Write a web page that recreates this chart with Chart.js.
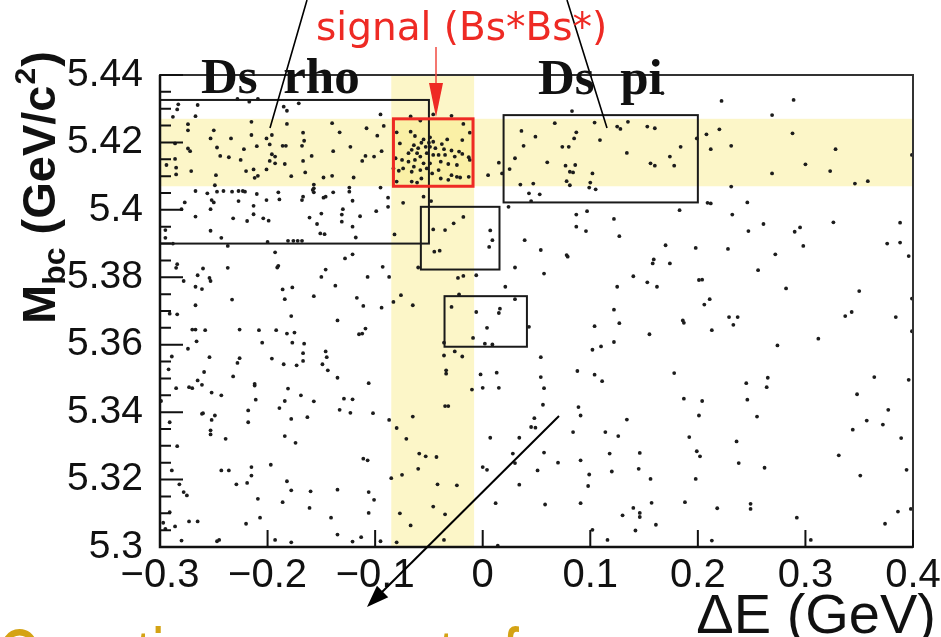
<!DOCTYPE html>
<html>
<head>
<meta charset="utf-8">
<script src="https://cdn.jsdelivr.net/npm/chart.js@4.4.1/dist/chart.umd.min.js"></script>
<style>
  html, body { margin: 0; padding: 0; background: #fff; }
  #wrap { width: 941px; height: 637px; overflow: hidden; }
</style>
</head>
<body>
<div id="wrap"><canvas id="myChart" width="941" height="637"></canvas></div>
<script>
// axis ticks
var xTicks = [-0.3, -0.2, -0.1, 0, 0.1, 0.2, 0.3, 0.4];
var yTicks = [5.3, 5.32, 5.34, 5.36, 5.38, 5.4, 5.42, 5.44];

// selection bands and boxes (dE min, dE max, Mbc min, Mbc max)
var hBand = [5.407, 5.427];
var vBand = [-0.085, -0.008];
var dsRhoBox = [-0.3, -0.050, 5.390, 5.4326];
var dsPiBox = [0.0194, 0.200, 5.4022, 5.4281];
var sideBoxA = [-0.0575, 0.0156, 5.3823, 5.4009];
var sideBoxB = [-0.0355, 0.0411, 5.3594, 5.3744];
var signalBox = [-0.083, -0.009, 5.407, 5.427];

// events [dE, Mbc]
var ptsUpperLeft = [
  [-0.228,5.4329],[-0.217,5.4321],[-0.209,5.4329],[-0.171,5.4316],[-0.283,5.4313],[-0.265,5.4311],
  [-0.284,5.4298],[-0.185,5.4306],[-0.182,5.4294],[-0.288,5.4276],[-0.267,5.4278],[-0.095,5.4283],
  [-0.274,5.4254],[-0.215,5.4261],[-0.182,5.4255],[-0.140,5.4257],[-0.108,5.4242],[-0.092,5.4249],
  [-0.250,5.4236],[-0.274,5.4236],[-0.167,5.4229],[-0.133,5.4230],[-0.098,5.4220],[-0.215,5.4222],
  [-0.196,5.4222],[-0.253,5.4212],[-0.234,5.4212],[-0.201,5.4212],[-0.166,5.4205],[-0.286,5.4197],
  [-0.274,5.4182],[-0.247,5.4185],[-0.222,5.4180],[-0.210,5.4189],[-0.198,5.4194],[-0.186,5.4190],
  [-0.183,5.4190],[-0.168,5.4190],[-0.123,5.4187],[-0.272,5.4174],[-0.139,5.4174],[-0.244,5.4160],
  [-0.236,5.4156],[-0.196,5.4165],[-0.193,5.4158],[-0.159,5.4160],[-0.109,5.4160],[-0.101,5.4158],
  [-0.094,5.4174],[-0.286,5.4151],[-0.225,5.4148],[-0.198,5.4145],[-0.193,5.4138],[-0.184,5.4136],
  [-0.167,5.4145],[-0.112,5.4145],[-0.294,5.4133],[-0.285,5.4125],[-0.271,5.4115],[-0.220,5.4115],
  [-0.213,5.4120],[-0.201,5.4120],[-0.165,5.4111],[-0.285,5.4105],[-0.248,5.4103],[-0.209,5.4101],
  [-0.212,5.4095],[-0.178,5.4100],[-0.148,5.4096],[-0.140,5.4101],[-0.120,5.4096],[-0.249,5.4073],
  [-0.157,5.4075],[-0.157,5.4064],[-0.158,5.4059],[-0.124,5.4066],[-0.095,5.4066],[-0.267,5.4056],
  [-0.256,5.4049],[-0.247,5.4054],[-0.241,5.4056],[-0.233,5.4054],[-0.227,5.4056],[-0.223,5.4056],
  [-0.221,5.4054],[-0.210,5.4047],[-0.190,5.4052],[-0.167,5.4039],[-0.157,5.4052],[-0.146,5.4039],
  [-0.139,5.4052],[-0.124,5.4054],[-0.277,5.4022],[-0.252,5.4029],[-0.250,5.4022],[-0.227,5.4026],
  [-0.201,5.4029],[-0.189,5.4031],[-0.168,5.4029],[-0.148,5.4036],[-0.121,5.4027],[-0.088,5.4036],
  [-0.253,5.4002],[-0.213,5.4012],[-0.280,5.4002],[-0.130,5.4002],[-0.099,5.3996],[-0.088,5.4009],
  [-0.267,5.3980],[-0.232,5.3975],[-0.219,5.3967],[-0.213,5.3987],[-0.204,5.3975],[-0.199,5.3968],
  [-0.161,5.3977],[-0.150,5.3989],[-0.131,5.3986],[-0.114,5.3981],[-0.154,5.3958],[-0.121,5.3950],
  [-0.131,5.3965],[-0.295,5.3940],[-0.253,5.3938],[-0.243,5.3917],[-0.151,5.3930],[-0.147,5.3928],
  [-0.118,5.3918],[-0.295,5.3917],[-0.288,5.3900],[-0.200,5.3905],[-0.181,5.3908],[-0.176,5.3908],
  [-0.172,5.3908],[-0.168,5.3908],[-0.237,5.3893],[-0.193,5.3874],[-0.128,5.3856],[-0.121,5.3868],
  [-0.284,5.3839],[-0.285,5.3828],[-0.260,5.3826],[-0.237,5.3828],[-0.191,5.3829],[-0.190,5.3834],
  [-0.146,5.3823],[-0.093,5.3831],[-0.265,5.3806],[-0.254,5.3798],[-0.253,5.3789],[-0.278,5.3789],
  [-0.150,5.3801],[-0.107,5.3801],[-0.087,5.3801],[-0.137,5.3775],[-0.267,5.3772],[-0.261,5.3765],
  [-0.186,5.3764],[-0.177,5.3770],[-0.157,5.3744],[-0.117,5.3739],[-0.076,5.3747],[-0.233,5.3734],
  [-0.184,5.3735],[-0.267,5.3717],[-0.111,5.3715],[-0.094,5.3710],[-0.083,5.3727],[-0.074,5.4021],
  [-0.082,5.3927]
];
var ptsSignal = [
  [-0.067,5.4277],[-0.058,5.4265],[-0.029,5.4279],[-0.018,5.4255],[-0.080,5.4230],[-0.067,5.4232],
  [-0.063,5.4219],[-0.055,5.4209],[-0.049,5.4215],[-0.046,5.4202],[-0.033,5.4209],[-0.019,5.4207],
  [-0.012,5.4229],[-0.064,5.4192],[-0.057,5.4199],[-0.053,5.4187],[-0.049,5.4187],[-0.044,5.4183],
  [-0.038,5.4195],[-0.036,5.4180],[-0.066,5.4178],[-0.069,5.4168],[-0.061,5.4168],[-0.058,5.4158],
  [-0.052,5.4168],[-0.046,5.4163],[-0.041,5.4163],[-0.029,5.4176],[-0.022,5.4173],[-0.019,5.4166],
  [-0.013,5.4156],[-0.081,5.4153],[-0.075,5.4148],[-0.069,5.4143],[-0.063,5.4148],[-0.055,5.4138],
  [-0.049,5.4138],[-0.039,5.4143],[-0.032,5.4136],[-0.024,5.4133],[-0.012,5.4148],[-0.083,5.4123],
  [-0.078,5.4116],[-0.074,5.4123],[-0.066,5.4113],[-0.058,5.4118],[-0.047,5.4108],[-0.041,5.4118],
  [-0.029,5.4103],[-0.024,5.4098],[-0.021,5.4096],[-0.080,5.4084],[-0.066,5.4084],[-0.061,5.4081],
  [-0.057,5.4093],[-0.039,5.4093],[-0.032,5.4089],[-0.013,5.4098],[-0.077,5.4197],[-0.060,5.4183],
  [-0.050,5.4199],[-0.035,5.4163],[-0.026,5.4158],[-0.052,5.4123],[-0.064,5.4128]
];
var ptsUpperMid = [
  [-0.046,5.4283],[0.083,5.4293],[0.067,5.4257],[0.104,5.4259],[0.135,5.4261],[0.153,5.4247],
  [0.160,5.4242],[0.125,5.4247],[0.128,5.4240],[0.036,5.4234],[0.049,5.4217],[0.087,5.4230],
  [0.085,5.4212],[0.109,5.4207],[0.038,5.4190],[0.074,5.4187],[0.080,5.4187],[0.134,5.4169],
  [0.030,5.4153],[0.015,5.4140],[0.060,5.4141],[0.077,5.4131],[0.086,5.4133],[0.156,5.4138],
  [0.160,5.4131],[0.025,5.4121],[0.018,5.4108],[0.005,5.4103],[0.081,5.4113],[0.084,5.4111],
  [0.102,5.4108],[0.078,5.4085],[0.035,5.4075],[0.047,5.4078],[0.081,5.4073],[0.100,5.4081],
  [0.099,5.4066],[0.105,5.4061],[-0.055,5.4039],[-0.048,5.4026],[0.043,5.4049],[0.053,5.4046],
  [0.045,5.4026],[0.024,5.4009],[0.087,5.3986],[0.097,5.3996],[0.122,5.3973],[-0.018,5.3979],
  [-0.027,5.3960],[-0.035,5.3940],[-0.046,5.3942],[0.007,5.3939],[0.009,5.3910],[0.006,5.3890],
  [0.087,5.3950],[0.096,5.3937],[0.127,5.3922],[0.039,5.3910],[-0.045,5.3876],[-0.040,5.3879],
  [0.054,5.3881],[0.078,5.3866],[0.079,5.3861],[0.159,5.3853],[0.158,5.3841],[-0.060,5.3829],
  [0.030,5.3829],[0.057,5.3811],[-0.018,5.3804],[-0.023,5.3798],[-0.006,5.3806],[0.140,5.3803],
  [0.153,5.3785],[0.162,5.3772],[0.021,5.3772],[0.125,5.3772],[-0.022,5.3749],[-0.029,5.3712],
  [0.016,5.3707],[-0.065,5.3717],[0.030,5.3735],[0.122,5.3704]
];
var ptsUpperRight = [
  [0.167,5.4346],[0.222,5.4323],[0.289,5.4326],[0.269,5.4281],[0.220,5.4239],[0.208,5.4224],
  [0.288,5.4227],[0.184,5.4187],[0.212,5.4180],[0.231,5.4190],[0.328,5.4180],[0.174,5.4158],
  [0.178,5.4131],[0.199,5.4212],[0.300,5.4135],[0.323,5.4115],[0.269,5.4108],[0.346,5.4078],
  [0.358,5.4085],[0.231,5.4069],[0.399,5.4163],[0.183,5.3999],[0.209,5.4021],[0.212,5.4019],
  [0.246,5.4022],[0.232,5.3986],[0.261,5.3958],[0.326,5.3963],[0.388,5.3962],[0.247,5.3937],
  [0.290,5.3935],[0.295,5.3948],[0.170,5.3895],[0.198,5.3887],[0.228,5.3884],[0.298,5.3893],
  [0.376,5.3900],[0.388,5.3903],[0.396,5.3863],[0.174,5.3841],[0.272,5.3868],[0.256,5.3821],
  [0.201,5.3792],[0.204,5.3793],[0.282,5.3767],[0.350,5.3759],[0.211,5.3735],[0.206,5.3719],
  [0.399,5.3737]
];
var ptsLowerLeft = [
  [-0.291,5.3692],[-0.284,5.3690],[-0.178,5.3685],[-0.135,5.3672],[-0.270,5.3645],[-0.267,5.3645],
  [-0.258,5.3643],[-0.226,5.3645],[-0.208,5.3643],[-0.192,5.3643],[-0.182,5.3633],[-0.175,5.3636],
  [-0.115,5.3631],[-0.112,5.3633],[-0.109,5.3648],[-0.266,5.3610],[-0.205,5.3606],[-0.177,5.3606],
  [-0.166,5.3603],[-0.274,5.3588],[-0.167,5.3575],[-0.146,5.3580],[-0.145,5.3563],[-0.289,5.3565],
  [-0.254,5.3563],[-0.226,5.3560],[-0.228,5.3546],[-0.196,5.3559],[-0.185,5.3542],[-0.173,5.3539],
  [-0.167,5.3552],[-0.149,5.3542],[-0.144,5.3524],[-0.292,5.3527],[-0.259,5.3519],[-0.232,5.3506],
  [-0.265,5.3494],[-0.261,5.3481],[-0.273,5.3474],[-0.270,5.3471],[-0.285,5.3471],[-0.212,5.3484],
  [-0.212,5.3479],[-0.181,5.3470],[-0.135,5.3502],[-0.106,5.3486],[-0.252,5.3458],[-0.243,5.3450],
  [-0.211,5.3437],[-0.184,5.3433],[-0.169,5.3450],[-0.157,5.3432],[-0.129,5.3440],[-0.121,5.3438],
  [-0.299,5.3433],[-0.260,5.3397],[-0.261,5.3395],[-0.249,5.3390],[-0.252,5.3377],[-0.218,5.3405],
  [-0.218,5.3370],[-0.189,5.3412],[-0.178,5.3380],[-0.163,5.3385],[-0.133,5.3407],[-0.123,5.3398],
  [-0.102,5.3397],[-0.087,5.3377],[-0.291,5.3370],[-0.253,5.3346],[-0.253,5.3334],[-0.239,5.3321],
  [-0.184,5.3329],[-0.174,5.3309],[-0.080,5.3353],[-0.071,5.3321],[-0.284,5.3299],[-0.111,5.3262],
  [-0.107,5.3257],[-0.289,5.3227],[-0.243,5.3227],[-0.236,5.3227],[-0.215,5.3237],[-0.215,5.3212],
  [-0.197,5.3244],[-0.282,5.3186],[-0.229,5.3186],[-0.219,5.3190],[-0.182,5.3195],[-0.178,5.3168],
  [-0.160,5.3165],[-0.135,5.3170],[-0.106,5.3163],[-0.085,5.3204],[-0.075,5.3214],[-0.278,5.3163],
  [-0.275,5.3153],[-0.209,5.3143],[-0.186,5.3133],[-0.101,5.3140],[-0.161,5.3116],[-0.291,5.3103],
  [-0.106,5.3101],[-0.077,5.3100],[-0.207,5.3087],[-0.141,5.3087],[-0.273,5.3076],[-0.265,5.3076],
  [-0.220,5.3069],[-0.297,5.3072],[-0.286,5.3061],[-0.067,5.3064],[-0.295,5.3054],[-0.280,5.3019],
  [-0.247,5.3017],[-0.245,5.3021],[-0.193,5.3021],[-0.178,5.3014],[-0.135,5.3037],[-0.121,5.3016],
  [-0.113,5.3029],[-0.095,5.3017],[-0.080,5.3014]
];
var ptsLowerMid = [
  [-0.006,5.3697],[0.015,5.3694],[0.004,5.3650],[-0.009,5.3620],[0.002,5.3603],[0.009,5.3601],
  [-0.036,5.3606],[0.043,5.3653],[-0.036,5.3568],[-0.026,5.3580],[-0.019,5.3565],[-0.034,5.3524],
  [-0.034,5.3514],[-0.010,5.3467],[-0.002,5.3512],[0.013,5.3517],[0.000,5.3472],[0.015,5.3472],
  [0.054,5.3563],[0.054,5.3504],[0.057,5.3471],[0.056,5.3422],[-0.035,5.3418],[-0.032,5.3418],
  [-0.065,5.3387],[0.048,5.3382],[0.045,5.3356],[0.049,5.3354],[0.007,5.3324],[0.034,5.3324],
  [0.088,5.3522],[0.104,5.3511],[0.111,5.3492],[0.104,5.3655],[0.127,5.3664],[0.122,5.3608],
  [0.110,5.3595],[0.102,5.3585],[0.155,5.3631],[0.089,5.3415],[0.091,5.3390],[0.134,5.3378],
  [0.084,5.3341],[0.114,5.3341],[0.126,5.3329],[-0.059,5.3277],[-0.053,5.3269],[-0.043,5.3267],
  [-0.060,5.3232],[-0.042,5.3186],[-0.024,5.3183],[0.028,5.3277],[0.030,5.3249],[0.000,5.3237],
  [0.004,5.3229],[0.057,5.3280],[0.070,5.3250],[0.051,5.3227],[0.034,5.3185],[0.091,5.3257],
  [0.118,5.3277],[0.120,5.3224],[0.099,5.3215],[0.098,5.3181],[0.146,5.3279],[0.145,5.3232],
  [0.156,5.3202],[-0.046,5.3120],[-0.035,5.3097],[0.012,5.3130],[0.058,5.3126],[0.091,5.3130],
  [0.140,5.3116],[0.146,5.3101],[0.146,5.3089],[0.130,5.3094],[0.157,5.3131],[0.161,5.3066],
  [0.142,5.3049],[0.102,5.3051],[-0.036,5.3021],[0.116,5.3021],[0.014,5.3004]
];
var ptsLowerRight = [
  [0.186,5.3672],[0.187,5.3665],[0.229,5.3682],[0.237,5.3682],[0.233,5.3659],[0.213,5.3643],
  [0.274,5.3598],[0.312,5.3618],[0.337,5.3685],[0.343,5.3697],[0.384,5.3682],[0.399,5.3640],
  [0.178,5.3516],[0.245,5.3486],[0.265,5.3502],[0.264,5.3474],[0.187,5.3440],[0.204,5.3433],
  [0.246,5.3437],[0.201,5.3390],[0.255,5.3387],[0.364,5.3504],[0.396,5.3496],[0.348,5.3453],
  [0.377,5.3407],[0.357,5.3375],[0.372,5.3363],[0.344,5.3348],[0.389,5.3323],[0.192,5.3326],
  [0.236,5.3313],[0.199,5.3284],[0.202,5.3269],[0.331,5.3272],[0.238,5.3249],[0.262,5.3235],
  [0.351,5.3212],[0.394,5.3229],[0.198,5.3202],[0.188,5.3133],[0.218,5.3115],[0.249,5.3128],
  [0.249,5.3113],[0.292,5.3087],[0.386,5.3105],[0.374,5.3069],[0.398,5.3113],[0.213,5.3019],
  [0.305,5.3021]
];

var allPts = [].concat(ptsUpperLeft, ptsSignal, ptsUpperMid, ptsUpperRight, ptsLowerLeft, ptsLowerMid, ptsLowerRight);

function fmtX(value) {
    var v = Math.round(value * 10) / 10;
    if (v === 0) return '0';
    return (v < 0 ? '\u2212' : '') + Math.abs(v).toFixed(1);
}
function fmtY(value) {
    return String(Math.round(value * 100) / 100);
}

function arrowHead(ctx, x0, y0, x1, y1, len, half) {
    var a = Math.atan2(y1 - y0, x1 - x0);
    ctx.beginPath();
    ctx.moveTo(x1, y1);
    ctx.lineTo(x1 - len * Math.cos(a) + half * Math.sin(a), y1 - len * Math.sin(a) - half * Math.cos(a));
    ctx.lineTo(x1 - len * Math.cos(a) - half * Math.sin(a), y1 - len * Math.sin(a) + half * Math.cos(a));
    ctx.closePath();
    ctx.fill();
}

function rectOf(xs, ys, b) {
    var x0 = xs.getPixelForValue(b[0]), x1 = xs.getPixelForValue(b[1]);
    var y0 = ys.getPixelForValue(b[3]), y1 = ys.getPixelForValue(b[2]);
    return [x0, y0, x1 - x0, y1 - y0];
}

var bandPlugin = {
    id: 'bands',
    beforeDatasetsDraw: function (chart) {
        var ctx = chart.ctx, a = chart.chartArea;
        var xs = chart.scales.x, ys = chart.scales.y;
        ctx.save();
        ctx.fillStyle = 'rgba(246, 232, 110, 0.38)';
        var yt = ys.getPixelForValue(hBand[1]), yb = ys.getPixelForValue(hBand[0]);
        ctx.fillRect(a.left, yt, a.right - a.left, yb - yt);
        var xl = xs.getPixelForValue(vBand[0]), xr = xs.getPixelForValue(vBand[1]);
        ctx.fillRect(xl, a.top, xr - xl, a.bottom - a.top);
        ctx.restore();
    }
};

var overlayPlugin = {
    id: 'overlay',
    afterDraw: function (chart) {
        var ctx = chart.ctx, a = chart.chartArea;
        var xs = chart.scales.x, ys = chart.scales.y;
        var r, i;
        ctx.save();

        // side boxes
        ctx.strokeStyle = '#1a1a1a';
        ctx.lineWidth = 2;
        [dsRhoBox, dsPiBox, sideBoxA, sideBoxB].forEach(function (b) {
            r = rectOf(xs, ys, b);
            ctx.strokeRect(r[0], r[1], r[2], r[3]);
        });
        // signal box
        ctx.strokeStyle = '#ee2a24';
        ctx.lineWidth = 3;
        r = rectOf(xs, ys, signalBox);
        ctx.strokeRect(r[0], r[1], r[2], r[3]);

        // frame
        ctx.strokeStyle = '#333';
        ctx.lineWidth = 2;
        ctx.strokeRect(a.left, a.top, a.right - a.left, a.bottom - a.top);
        ctx.strokeStyle = '#111';
        ctx.lineWidth = 2.5;
        ctx.beginPath();
        ctx.moveTo(a.left, a.top);
        ctx.lineTo(a.left, a.bottom);
        ctx.lineTo(a.right, a.bottom);
        ctx.stroke();

        // ticks, drawn inward
        ctx.lineWidth = 2;
        ctx.beginPath();
        xTicks.forEach(function (v) {
            var px = xs.getPixelForValue(v);
            ctx.moveTo(px, a.bottom);
            ctx.lineTo(px, a.bottom - 17);
        });
        for (i = 0; i <= 28; i++) {
            var v = 5.3 + i * 0.005;
            var py = ys.getPixelForValue(v);
            var len = (i % 4 === 0) ? 23 : 11;
            ctx.moveTo(a.left, py);
            ctx.lineTo(a.left + len, py);
        }
        ctx.stroke();

        // pointer lines
        ctx.strokeStyle = '#000';
        ctx.fillStyle = '#000';
        ctx.lineWidth = 1.6;
        ctx.beginPath();
        ctx.moveTo(307, 0); ctx.lineTo(270, 128);
        ctx.moveTo(567, 0); ctx.lineTo(607, 128);
        ctx.stroke();
        ctx.lineWidth = 2;
        ctx.beginPath();
        ctx.moveTo(559, 416); ctx.lineTo(374, 600);
        ctx.stroke();
        arrowHead(ctx, 559, 416, 367, 607, 22, 8);

        // signal label + red arrow
        ctx.fillStyle = '#ee2a24';
        ctx.strokeStyle = '#f04a40';
        ctx.font = '39px "DejaVu Sans"';
        ctx.textBaseline = 'alphabetic';
        ctx.textAlign = 'left';
        ctx.fillText('signal (Bs*Bs*)', 316, 40);
        ctx.lineWidth = 1.5;
        ctx.beginPath();
        ctx.moveTo(436, 47); ctx.lineTo(436, 90);
        ctx.stroke();
        arrowHead(ctx, 436, 47, 436, 117, 34, 7);

        // region labels
        ctx.fillStyle = '#111';
        ctx.font = 'bold 51px "Liberation Serif"';
        ctx.fillText('Ds  rho', 201, 93);
        ctx.fillText('Ds  pi', 538, 94);

        // axis titles
        ctx.font = '56px "Liberation Sans"';
        ctx.textAlign = 'right';
        ctx.fillText('\u0394E (GeV)', 936, 633);

        ctx.textAlign = 'left';
        ctx.translate(55, 324);
        ctx.rotate(-Math.PI / 2);
        var xp = 0;
        ctx.font = 'bold 47px "Liberation Sans"';
        ctx.fillText('M', xp, 0); xp += ctx.measureText('M').width;
        ctx.font = 'bold 32px "Liberation Sans"';
        ctx.fillText('bc', xp, 10); xp += ctx.measureText('bc').width;
        ctx.font = 'bold 47px "Liberation Sans"';
        ctx.fillText(' (GeV/c', xp, 0); xp += ctx.measureText(' (GeV/c').width;
        ctx.font = 'bold 30px "Liberation Sans"';
        ctx.fillText('2', xp + 1, -20); xp += ctx.measureText('2').width + 2;
        ctx.font = 'bold 47px "Liberation Sans"';
        ctx.fillText(')', xp, 0);
        ctx.setTransform(1, 0, 0, 1, 0, 0);

        // clipped note at the bottom (tall font, squeezed horizontally)
        ctx.fillStyle = '#d4a314';
        ctx.font = '84px "Liberation Sans"';
        ctx.translate(-3, 687);
        ctx.scale(0.69, 1);
        ctx.fillText('Question: amount of', 0, 0);
        ctx.setTransform(1, 0, 0, 1, 0, 0);
        ctx.restore();
    }
};

var ctx = document.getElementById('myChart').getContext('2d');
var myChart = new Chart(ctx, {
    type: 'scatter',
    data: {
        datasets: [{
            label: 'events',
            data: allPts.map(function (p) { return { x: p[0], y: p[1] }; }),
            pointRadius: 1.9,
            pointStyle: 'circle',
            pointBackgroundColor: '#1c1c1c',
            pointBorderWidth: 0
        }]
    },
    options: {
        responsive: false,
        animation: false,
        devicePixelRatio: 1,
        layout: { padding: { left: 0, right: 28, top: 75, bottom: 0 } },
        plugins: { legend: { display: false }, tooltip: { enabled: false } },
        scales: {
            x: {
                type: 'linear',
                min: -0.3,
                max: 0.4,
                afterBuildTicks: function (scale) {
                    scale.ticks = xTicks.map(function (v) { return { value: v }; });
                },
                afterFit: function (scale) { scale.height = 90; },
                grid: { display: false },
                border: { display: false },
                ticks: {
                    color: '#111',
                    padding: -3,
                    maxRotation: 0,
                    autoSkip: false,
                    font: { family: 'Liberation Sans', size: 40 },
                    callback: fmtX
                }
            },
            y: {
                type: 'linear',
                min: 5.3,
                max: 5.44,
                afterBuildTicks: function (scale) {
                    scale.ticks = yTicks.map(function (v) { return { value: v }; });
                },
                afterFit: function (scale) { scale.width = 160; },
                grid: { display: false },
                border: { display: false },
                ticks: {
                    color: '#111',
                    padding: 9,
                    autoSkip: false,
                    font: { family: 'Liberation Sans', size: 39 },
                    callback: fmtY
                }
            }
        }
    },
    plugins: [bandPlugin, overlayPlugin]
});
</script>
</body>
</html>
